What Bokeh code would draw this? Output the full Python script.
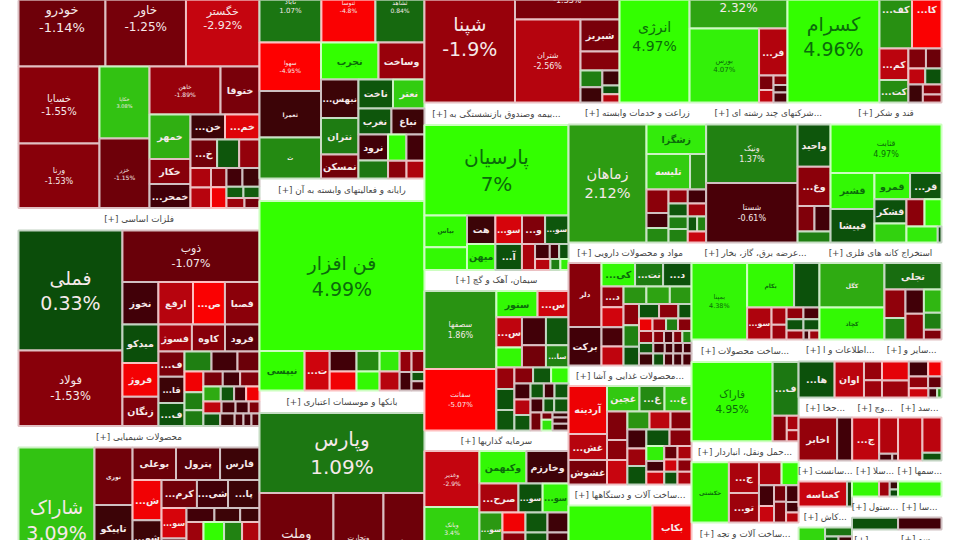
from bokeh.plotting import figure
from bokeh.models import ColumnDataSource, Range1d
from bokeh.core.properties import value
from bokeh.embed import file_html
from bokeh.resources import INLINE

# ---------- market weights, daily change (%), symbols; "*" = the change is printed ----------
auto_sizes = [83.5,77.3,70.6,62.4,52.2,36.0,34.8,34.1,18.7,18.2,10.3,9.8,8.6,8.6,7.6,6.3,5.8,4.0,4.2,3.0,3.2,3.0,3.2,1.9,1.8,1.8,1.5]
auto_changes = [-1.14,-1.25,-2.92,-1.55,-1.53,3.08,-1.15,-1.89,-1.3,2.6,-1.5,-0.5,-0.4,-3.8,-1.2,0.5,-1.8,-2.4,-2.6,-1.6,-4.5,-0.5,-0.4,0.6,0.6,-2.0,-1.2]
auto_labels = ["خودرو*","خاور*","خگستر*","خسایا*","ورنا*","خکاپا*","خزر*","خاهن*","ختوقا","خمهر","خکار","...خمحر","...خن","...خم","...خ"]
auto_tree = "([...][(..)(..)([..][(...)([..][...][(..)(..)([..][..][..])])])])"

metals_sizes = [124.8,78.5,70.6,15.3,14.7,13.6,14.7,13.9,12.1,10.6,9.0,8.9,9.3,6.6,6.8,6.0,5.4,5.2,4.4,3.9,3.4,3.0,2.9,2.6,2.9,2.6,2.0,1.8,2.0,2.2,1.7,1.6,1.3,2.1,1.8,1.1,1.0,1.0]
metals_changes = [.33,-1.53,-1.07,-.5,-2.6,-4.8,-1.6,.35,-4.6,-1.4,-2.2,-1.5,-.8,-1.3,-.4,.4,1.3,-.5,-1.1,-4.5,1.3,1.2,-1.3,-.5,-1.4,2.5,.5,-.5,-4.5,-2.8,-.6,-.5,-1.4,.5,-.4,-.6,-.5,-.7]
metals_labels = ["فملی*","فولاد*","ذوب*","نخوز","ارفع","...ص","فصبا","میدکو","فروژ","زنگان","فسوژ","کاوه","فرود","...ف","...قا","...ف"]
metals_tree = "[(..)(.([....][(...)([...][(...)([...][(...)([...][....][....][.....])])])]))]"

chem_sizes = [110.2,21.9,17.5,15.8,14.1,14.3,12.8,11.7,10.2,10.7,9.9,8.7,8.8,7.6,13.5,3.9,3.6,2.7,12.0,14.5,12.7,12.3]
chem_changes = [3.09,-1.2,-.4,-1.1,-1.1,-.8,-.4,-4.5,-.4,-1.0,-1.2,-.5,-.4,-3.5,-.6,-.5,-.4,-.4,-2,4.8,1.4,-2.4]
chem_labels = ["شاراک*","نوری","تاپیکو","","بوعلی","پترول","فارس","...ش","...شو","","...کرم","...شی","...پا","...سو"]
chem_tree = "[.(...)([...][(...)([...][(..)([...][....])])])]"

petchem_sizes = [44.6,38.9,35.3,29.8,28.6,25.2,21.3,17.0,14.4,13.7,9.0,10.0,9.1,8.6,8.6,7.7,5.3,4.8,4.7,3.3,3.2]
petchem_changes = [1.07,-4.8,.84,-4.95,-.4,1.6,5,-1.9,-.4,1.2,-1.2,.5,3.3,.5,-.4,-.5,1.1,4.8,-.5,-1.6,-2.4]
petchem_labels = ["ثاباد*","ثنوسا*","ثشاهد*","سهوا*","ثعمرا","ث","نجرب","وساخت","...نبهس","نتران","نمسکن","ناخت","نعتر","نغرب","نباغ","نرود"]
petchem_tree = "([...][(...)([..][(...)([..][..][(..)([..][..])])])])"

computer_sizes = [247.5,17.8,9.9,5.5,5.1,4.7,4.4,4.1,3.8,2.5,2.7,2.2,1.2,1.2]
computer_changes = [4.99,5,-3.2,-.5,-4.5,1.6,4.6,3.9,-2.6,-1.8,-1.6,-.5,.5,-.6]
computer_labels = ["فن افزار*","نیپسی","...ت"]
computer_tree = "(.[..(..)(..)(..)([..][.(..)])])"

banks_sizes = [132,73.6,49.8,40.8]
banks_changes = [1.09,-1.2,-1.15,-1.15]
banks_labels = ["وپارس*","وملت*","وتجارت*","وصادر"]
banks_tree = "(.[...])"

refinery_sizes = [119.5,51.2,54.4,12.5,7.4,3.7,3.3,2.6,1.5,1.4,92.4,56.8,51.4,13.4,2.1,1.8,1.3,1.05,1.4]
refinery_changes = [-1.9,-1.33,-2.56,-1.3,-1.5,1.3,-.4,-.4,.4,-2.6,4.97,2.32,4.07,-2.5,-1.3,-2.8,-1.5,-.4,-.6]
refinery_labels = ["شپنا*","شبندر*","شتران*","شبریز","","","","","","","انرژی*","پالایش*","بورس*","...فر"]
refinery_tree = "[.(.[.(..[(..)(...)])]).(.[.(.[(..)(...)])])]"

ceramic_sizes = [121.4,25.4,23.0,9.1,6.5,3.5,3.1,2.7,2.6,2.6,1.85,1.5]
ceramic_changes = [4.96,1.8,-4.8,-2.7,1.7,-1.4,-1.1,-2.8,.4,-.4,-1.5,-1.4]
ceramic_labels = ["کسرام*","...کف","...کا","...کم","...کت"]
ceramic_tree = "[.([..][(..)([..][..][.(..)])])]"

insurance_sizes = [130.3,13.6,9.6,8.1,7.4,7.6,6.6,6.7,6.9,3.4,2.2,1.4,1.4,1.7,1.1,.9]
insurance_changes = [7,4.8,4.6,-.4,4.6,-3.5,-1.4,.5,.4,-2.3,-.5,-.5,.4,-2.6,1.3,4]
insurance_labels = ["پارسیان*","بیاس","","هت","میهن","...سو","...و","...سو","...آ"]
insurance_tree = "(.[(..)(..)([...][..([...][...])])])"

cement_sizes = [56.2,44.3,10.9,8.2,7.7,5.1,6.7,5.3,6.3,5.0,3.9,3.8,3.7,3.0,2.9,2.8,2.6,2.5,2.5,2.0,1.6,2.1,1.8,1.5,2.0,2.0,.8,1.2,.8,1.0,1.1]
cement_changes = [1.86,-5.07,4.6,-3.2,-2.8,4.5,-.5,-1.2,.5,1.4,-1.9,.4,.5,-1.5,.5,4.7,-.5,-2.6,.5,.5,-.5,.5,-.5,.5,.5,-1.2,-1.3,3.8,-.4,-.5,-.4]
cement_labels = ["سصفها*","سفانت*","ستور","...س","...س","","","","","...سا"]
cement_tree = "[(..)([..][(..)(..)(..)][(...)([...][(...)([...][...][.(..)(...)])])])]"

invest_sizes = [30.8,23.9,23.1,15.3,13.7,11.3,7.0,7.5,7.6,10.8,4.6,13.8,4.4,13.2,4.2,12.6]
invest_changes = [-2.9,3.4,-1.2,4.5,-.45,-2.3,.4,4.3,2,-1,-4.5,-1.6,.5,.5,-.45,-.5]
invest_labels = ["وغدیر*","وبانک*","","وکبهمن","وخارزم","...صرح","...سو","...سو","...سو"]
invest_tree = "[(...)([..][...][(..)(..)(..)(..)])]"

agri_sizes = [92.0,17.6,15.4,5.7,5.2,3.3,3.2,2.7,2.5,2.4,2.6,2.6,2.4,1.4,1.35,2.0]
agri_changes = [2.12,3.9,3.3,1.8,-1.6,-.5,1.6,-1.7,.5,1.3,1.4,-.5,-2.1,.5,1.4,-3]
agri_labels = ["زماهان*","زشگزا","تلیسه"]
agri_tree = "[.(.[..][(...)(....)(..[..].)])]"

multi_sizes = [53.5,54.4,13.9,13.0,4.3,4.1,3.6]
multi_changes = [1.37,-.61,.5,-1.6,-1.4,-.5,1.3]
multi_labels = ["ونیک*","شستا*","واحید","...وغ"]
multi_tree = "[(..)(..[..].)]"

sugar_sizes = [53.8,15.8,14.7,9.4,8.3,7.7,6.1,4.9,4.6,5.0,.6]
sugar_changes = [4.97,4.5,.4,4.4,.5,.4,3.4,-1.6,4.7,3.9,.3]
sugar_labels = ["قثابت*","قشیر","قپیشا","قمرو","...قر","قشکر"]
sugar_tree = "(.[(..)([..][(..)([..][..])])])"

pharma_sizes = [21.1,12.7,7.9,6.6,6.7,4.6,4.4,4.2,4.2,4.0,4.1,3.8,3.3,3.3,2.9,2.9,2.8,1.9,1.7,1.7,1.5,1.7,1.7,1.3,1.1,1.1,1.1,1.5,1.2,.9,1.0,.9,1.7,1.3,1.1,1.1,1.1]
pharma_changes = [-1.5,-.5,4.5,1.2,.4,-1.7,-3.3,-.6,-2.8,1.9,2.3,2,-1.6,1.4,.4,.4,-1.6,.4,-4.3,-2,1.3,-1.5,-1.9,-1.5,-.6,-1.4,1.5,.5,-.5,-.5,-.5,-.5,-.4,.4,-.6,-.5,-.6]
pharma_labels = ["دلر","برکت","...کی","...نت","...د","...د"]
pharma_tree = "[(..)([...][(....)([...][(...)([...][....][.....][.....][.....])])])]"

food_sizes = [18.5,10,9.4,8.3,6.4,6.9,5.8,4.1,5.0,4.0,3.8,3.8,3.6,3.3,3.5,3.8,3.6,2.7,1.9,2.3,1.8,1.9,1.6,1.7,1.7,1.8]
food_changes = [-4.4,-2.6,-1.3,3.2,1.6,3.1,-1.4,-1.6,-3,1.9,-2.7,-1.5,-.5,-2,.4,.4,-1.5,4,-.5,-3.2,-1,-2.3,-3.3,-1.6,.4,-2.4]
food_labels = ["آردینه","...غش","غشوش","غچین","...غ","...غ"]
food_tree = "[(...)([...][(...)([...][(...)([..][(...)([..][..][..])])])])]"

machines_sizes = [73.1,17.6,16.4]
machines_changes = [4.8,-4.3,-1.5]
machines_labels = ["رتاپ","بکاب"]
machines_tree = "[.(..)]"

utility_sizes = [42.5,20.9,11.3,7.8,2.6,2.2,2.0,1.9,1.9,1.8,1.5,.5,.9]
utility_changes = [4.38,4.7,.4,-2.4,-2.2,-2,-1.7,-.6,.4,.4,-2,-.5,-2]
utility_labels = ["بمپنا*","بکام","","...سو"]
utility_tree = "[.([..][.(..)([..][..][...])])]"

mining_sizes = [28.9,20.8,15.1,6,4.5,4.5,4.7,4.1,3,1.7]
mining_changes = [2.5,4.6,.9,-1.7,1.4,-.5,-1.6,2.8,1.3,-1.4]
mining_labels = ["کگل","کچاد","تجلی"]
mining_tree = "[(..)(.[(..)(..)(...)])]"

products_sizes = [64.4,14,3.6,1.7,1.3]
products_changes = [4.95,1.1,-1.5,-2.3,-2.2]
products_labels = ["فاراک*","...ف"]

transport_sizes = [22.5,9.2,8.9,5.2,3.9,3.1,2.5,2,2.5,2.1,1.3,1.25]
transport_changes = [4.7,-2.3,-2,-2.4,4.8,-.5,-3,-1.2,-1.4,-.5,-.5,-2.6]
transport_labels = ["حکشتی","...ج","...تو"]

info_sizes = [13,10.6,3.4,3.1]
info_changes = [.4,-2.7,-1.9,-2]
info_labels = ["...ها","اوان"]

other_sizes = [5.1,4.6,2.9,2,2.3,1.6,1.8,.8,.4]
other_changes = [-4,-2,-.5,-4.5,-1.7,-1,-3.2,-.5,1.5]

# weight of each sector's title strip
title_weights = dict(metals=54.2, chem=51.8, computer=37.1, banks=37.1, insurance=32.4, cement=30.2, invest=29.5,
                     agri=30.3, multi=27.4, sugar=24.4, pharma=25.2, food=25.2, machines=25.8, utility=26.2,
                     mining=25.0, products=24.1, transport=22.5, equip=24.6, info=18.4, other=13.1)

FONT_PX = {"خودرو":13,"خاور":12,"خگستر":11,"خسایا":10,"ورنا":8,"خکاپا":5,"خزر":6,"خاهن":6,
           "فملی":19,"فولاد":11.5,"ذوب":11,"شاراک":19,"فن افزار":19,"وپارس":20,"وملت":13,"وتجارت":7,"وصادر":7,
           "شپنا":19,"شبندر":8,"شتران":8,"انرژی":14,"پالایش":12,"بورس":7,"کسرام":19,"پارسیان":20,
           "سصفها":8,"سفانت":7,"وغدیر":6,"وبانک":6,"زماهان":14.5,"ونیک":8,"شستا":8,"قثابت":8,
           "بمپنا":6.5,"فاراک":10.5,"ثاباد":7,"ثنوسا":6,"ثشاهد":6,"سهوا":6,
           "نوری":6,"ثعمرا":6,"ث":6,"دلر":7,"حکشتی":6,"کگل":6,"کچاد":6,"بکام":6,"بیاس":6.5,"رتاپ":8}

# ---------- colours driven by change ----------
STOPS = [(-5,(255,0,0)),(-3,(200,5,15)),(-1.5,(135,0,10)),(-.5,(65,0,8)),(0,(40,20,5)),(.3,(10,75,10)),
         (1.1,(28,120,18)),(2.1,(45,155,18)),(3.1,(50,195,18)),(4,(51,240,10)),(5,(51,255,0))]

def shade(c):
    c = max(-5, min(5, c))
    for (a, ca), (b, cb) in zip(STOPS, STOPS[1:]):
        if a <= c <= b:
            t = (c - a) / (b - a)
            return tuple(ca[i] + (cb[i] - ca[i]) * t for i in range(3))

def css(rgb):
    return "#%02x%02x%02x" % tuple(int(round(v)) for v in rgb)

# ---------- treemap: every rectangle follows from the weights ----------
def parse(tree, cells):
    pos = [0]; leaf = [0]
    def node():
        ch = tree[pos[0]]; pos[0] += 1
        if ch == ".":
            k = leaf[0]; leaf[0] += 1
            return cells[k]
        close, kind = (")", "v") if ch == "(" else ("]", "h")
        kids = []
        while tree[pos[0]] != close:
            kids.append(node())
        pos[0] += 1
        return (kind, kids)
    n = node()
    assert leaf[0] == len(cells), (tree, leaf[0], len(cells))
    return n

def sector(key, title, tree, sizes, changes, labels=()):
    assert len(sizes) == len(changes), (key, len(sizes), len(changes))
    labs = list(labels) + [""] * (len(sizes) - len(labels))
    cells = [("leaf", s, c, l) for s, c, l in zip(sizes, changes, labs)]
    body = parse(tree, cells)
    if title is None:
        return body
    band = title_weights.get(key, key if isinstance(key, (int, float)) else 0)
    return ("v", [("title", band, title), body])

def weight(n):
    if n[0] in ("leaf", "title"):
        return n[1]
    return sum(weight(k) for k in n[1])

quads = dict(l=[], r=[], t=[], b=[], fill=[], line=[])
names = dict(x=[], y=[], text=[], fs=[], col=[])
symbols = dict(x=[], y=[], text=[], fs=[], col=[])
titles = dict(x=[], y=[], text=[])

def draw_leaf(n, x0, y0, x1, y1):
    _, _, c, lab = n
    rgb = shade(c)
    quads["l"].append(x0); quads["r"].append(x1); quads["t"].append(y0); quads["b"].append(y1)
    quads["fill"].append(css(rgb))
    quads["line"].append(css(tuple(v * .25 + 255 * .75 for v in rgb)))
    if not lab:
        return
    starred = lab.endswith("*")
    name = lab.rstrip("*")
    w = x1 - x0
    fs = FONT_PX.get(name, max(5, min(9.5, w / (max(len(name), 3) * .62))))
    col = "#0b6b0b" if c >= 3.5 else "#f6e9e9"
    cx, cy = (x0 + x1) / 2, (y0 + y1) / 2
    if starred:
        names["x"] += [cx, cx]; names["y"] += [cy - fs * .68, cy + fs * .68]
        names["text"] += [name, f"{c:g}%"]; names["fs"] += [f"{fs}px"] * 2; names["col"] += [col] * 2
    else:
        symbols["x"].append(cx); symbols["y"].append(cy); symbols["text"].append(name)
        symbols["fs"].append(f"{fs}px"); symbols["col"].append(col)

def layout(n, x0, y0, x1, y1):
    if n[0] == "leaf":
        draw_leaf(n, x0, y0, x1, y1)
    elif n[0] == "title":
        titles["x"].append((x0 + x1) / 2); titles["y"].append((y0 + y1) / 2)
        titles["text"].append("[+] \u200f" + n[2])
    else:
        tot = weight(n); p = x0 if n[0] == "h" else y0
        for k in n[1]:
            share = weight(k) / tot
            if n[0] == "h":
                q = p + (x1 - x0) * share; layout(k, p, y0, q, y1)
            else:
                q = p + (y1 - y0) * share; layout(k, x0, p, x1, q)
            p = q

auto = sector("auto", None, auto_tree, auto_sizes, auto_changes, auto_labels)
metals = sector("metals", "فلزات اساسی", metals_tree, metals_sizes, metals_changes, metals_labels)
chem = sector("chem", "محصولات شیمیایی", chem_tree, chem_sizes, chem_changes, chem_labels)
petchem = sector("petchem", None, petchem_tree, petchem_sizes, petchem_changes, petchem_labels)
computer = sector("computer", "رایانه و فعالیتهای وابسته به آن", computer_tree, computer_sizes, computer_changes, computer_labels)
banks = sector("banks", "بانکها و موسسات اعتباری", banks_tree, banks_sizes, banks_changes, banks_labels)
refinery = sector("refinery", None, refinery_tree, refinery_sizes, refinery_changes, refinery_labels)
ceramic = sector("ceramic", None, ceramic_tree, ceramic_sizes, ceramic_changes, ceramic_labels)
insurance = sector("insurance", "...بیمه وصندوق بازنشستگی به", insurance_tree, insurance_sizes, insurance_changes, insurance_labels)
cement = sector("cement", "سیمان، آهک و گچ", cement_tree, cement_sizes, cement_changes, cement_labels)
invest = sector("invest", "سرمایه گذاریها", invest_tree, invest_sizes, invest_changes, invest_labels)
agri = sector("agri", "زراعت و خدمات وابسته", agri_tree, agri_sizes, agri_changes, agri_labels)
multi = sector("multi", "...شرکتهای چند رشته ای", multi_tree, multi_sizes, multi_changes, multi_labels)
sugar = sector("sugar", "قند و شکر", sugar_tree, sugar_sizes, sugar_changes, sugar_labels)
pharma = sector("pharma", "مواد و محصولات دارویی", pharma_tree, pharma_sizes, pharma_changes, pharma_labels)
food = sector("food", "...محصولات غذایی و آشا", food_tree, food_sizes, food_changes, food_labels)
machines = sector("machines", "...ساخت آلات و دستگاهها", machines_tree, machines_sizes, machines_changes, machines_labels)
utility = sector("utility", "...عرضه برق، گاز، بخار", utility_tree, utility_sizes, utility_changes, utility_labels)
mining = sector("mining", "استخراج کانه های فلزی", mining_tree, mining_sizes, mining_changes, mining_labels)
products = sector("products", "...ساخت محصولات", "[.(.[.(..)])]", products_sizes, products_changes, products_labels)
transport = sector("transport", "...حمل ونقل، انباردار", "[.(..)([..][(..)(..)(...)])]", transport_sizes, transport_changes, transport_labels)
equip = sector("equip", "...ساخت آلات و تجه", ".", [50.3], [-1.2])
info = sector("info", "...اطلاعات و ا", "[..(..)]", info_sizes, info_changes, info_labels)
other = sector("other", "...سایر و", "[(..)([..][..][...])]", other_sizes, other_changes)
s_a = sector(10.7, "...حخا", "[..]", [16.6,6.5], [-1.8,-.5], ["اخابر"])
s_b = sector(9.2, "...وچ", "[.(.[..])]", [11.6,6.8,.9,.4], [-2.8,-2.5,-.5,-.6], ["...ج"])
s_c = sector(8.7, "...سد", "[.(..)]", [10.5,6.7,1.5], [-2.7,-2.7,.4])
s_d = sector(11.2, "...سانست", "[..]", [12.1,1.25], [-3,.2], ["کعناسه"])
s_e = sector(11.2, "...کاش", "[.(.[..])]", [17.2,2.4,7.55,7.55], [3.5,1,.4,-.4])
s_f = sector(9.7, "...سلا", "[..(..)]", [4.05,1.6,.65,.6], [4.6,-2,-.3,.3])
s_g = sector(9.7, "...ستول", ".", [5.5], [.4])
s_h = sector(9.2, "...سپ", ".", [19.8], [-1])
s_i = sector(9.1, "...سمها", ".", [6.5], [4.6])
s_j = sector(9.1, "...سا", ".", [5.2], [-.5])
s_k = sector(8.7, "...سو", ".", [18.7], [-1])

small = ("v", [("h", [info, other]), ("h", [s_a, s_b, s_c]),
               ("h", [("v", [s_d, s_e]), ("v", [s_f, s_g, s_h]), ("v", [s_i, s_j, s_k])])])
corner = ("h", [("v", [products, transport, equip]), small])
row2 = ("h", [("v", [pharma, food, machines]), ("v", [("h", [utility, mining]), corner])])
rest = ("v", [("h", [agri, multi, sugar]), row2])
right = ("v", [("h", [refinery, ceramic]), ("h", [("v", [insurance, cement, invest]), rest])])
market = ("h", [("v", [auto, metals, chem]), ("v", [petchem, computer, banks]), right])

layout(market, 18, -30, 941, 592)

p = figure(width=960, height=540, output_backend="svg", toolbar_location=None,
           x_range=Range1d(0, 960), y_range=Range1d(540, 0),
           x_axis_type=None, y_axis_type=None, min_border=0, outline_line_color=None,
           background_fill_color="white", border_fill_color="white")
p.grid.visible = False
p.quad(left="l", right="r", top="t", bottom="b", fill_color="fill", line_color="line", line_width=2,
       source=ColumnDataSource(quads))
p.text(x="x", y="y", text="text", text_font_size="fs", text_color="col", text_align="center",
       text_baseline="middle", text_font=value("DejaVu Sans"), source=ColumnDataSource(names))
p.text(x="x", y="y", text="text", text_font_size="fs", text_color="col", text_align="center",
       text_baseline="middle", text_font=value("DejaVu Sans"), text_font_style="bold",
       source=ColumnDataSource(symbols))
p.text(x="x", y="y", text="text", text_font_size="8.8px", text_color="#454545", text_align="center",
       text_baseline="middle", text_font=value("DejaVu Sans"), source=ColumnDataSource(titles))

open("out.html", "w").write(file_html(p, INLINE))
